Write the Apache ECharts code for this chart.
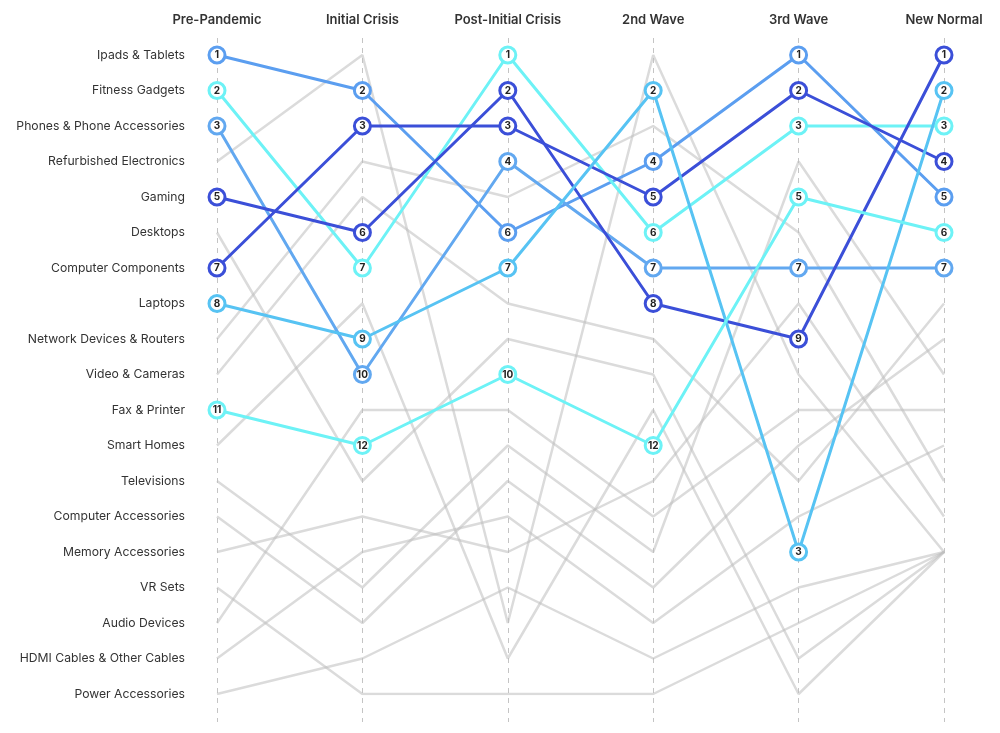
<!DOCTYPE html>
<html><head><meta charset="utf-8">
<script src="https://cdn.jsdelivr.net/npm/echarts@6/dist/echarts.min.js"></script>
<style>html,body{margin:0;padding:0;background:#fff}#c{width:1000px;height:733px}</style>
</head><body><div id="c"></div>
<script>
const periods = ['Pre-Pandemic', 'Initial Crisis', 'Post-Initial Crisis', '2nd Wave', '3rd Wave', 'New Normal'];
const categories = ['Ipads & Tablets', 'Fitness Gadgets', 'Phones & Phone Accessories', 'Refurbished Electronics',
  'Gaming', 'Desktops', 'Computer Components', 'Laptops', 'Network Devices & Routers', 'Video & Cameras',
  'Fax & Printer', 'Smart Homes', 'Televisions', 'Computer Accessories', 'Memory Accessories', 'VR Sets',
  'Audio Devices', 'HDMI Cables & Other Cables', 'Power Accessories'];

// highlighted series ranks per period
const ipads = [1, 2, 6, 4, 1, 5];
const fitness = [2, 7, 1, 6, 3, 3];
const phones = [3, 10, 4, 7, 7, 7];
const gaming = [5, 6, 2, 8, 9, 1];
const components = [7, 3, 3, 5, 2, 4];
const laptops = [8, 9, 7, 2, 15, 2];
const laptopsLabels = ['8', '9', '7', '2', '3', '2'];
const fax = [11, 12, 10, 12, 5, 6];

// background (grey) series ranks per period
const refurbished = [4, 1, 17, 1, 10, 15];
const desktops = [6, 13, 9, 10, 18, 15];
const network = [9, 4, 5, 3, 6, 13];
const video = [10, 5, 8, 9, 13, 8];
const smartHomes = [12, 8, 18, 11, 19, 15];
const televisions = [13, 16, 12, 15, 4, 10];
const compAccessories = [14, 17, 13, 16, 12, 9];
const memory = [15, 14, 15, 13, 8, 14];
const vr = [16, 19, 19, 19, 17, 15];
const audio = [17, 11, 11, 14, 11, 11];
const hdmi = [18, 15, 14, 17, 14, 12];
const power = [19, 18, 16, 18, 16, 15];

const DARK = '#3b4fd8', MID = '#5b9ef0', SKY = '#57c3f3', CYAN = '#6df2f6';
const FONT = 'Inter, "Noto Sans", sans-serif';

const highlighted = [
  {name: categories[0], vals: ipads, color: MID},
  {name: categories[1], vals: fitness, color: CYAN},
  {name: categories[2], vals: phones, color: '#62a8f0'},
  {name: categories[4], vals: gaming, color: DARK},
  {name: categories[6], vals: components, color: DARK},
  {name: categories[7], vals: laptops, color: SKY, labels: laptopsLabels},
  {name: categories[10], vals: fax, color: CYAN}
];
const grey = [
  {name: categories[3], vals: refurbished}, {name: categories[5], vals: desktops},
  {name: categories[8], vals: network}, {name: categories[9], vals: video},
  {name: categories[11], vals: smartHomes}, {name: categories[12], vals: televisions},
  {name: categories[13], vals: compAccessories}, {name: categories[14], vals: memory},
  {name: categories[15], vals: vr}, {name: categories[16], vals: audio},
  {name: categories[17], vals: hdmi}, {name: categories[18], vals: power}
];

const series = [];
grey.forEach(g => series.push({
  type: 'line', name: g.name, xAxisIndex: 0, yAxisIndex: 0,
  data: g.vals.map((v, i) => [i, v]),
  symbol: 'none', silent: true, z: 2,
  lineStyle: {color: 'rgba(190,190,190,0.55)', width: 2.5}
}));
highlighted.forEach(h => series.push({
  type: 'line', name: h.name, xAxisIndex: 0, yAxisIndex: 0,
  data: h.vals.map((v, i) => [i, v]),
  symbol: 'circle', symbolSize: 16, z: 5,
  lineStyle: {color: h.color, width: 3},
  itemStyle: {color: '#fff', borderColor: h.color, borderWidth: 3},
  label: {
    show: true, position: 'inside', color: '#222', fontSize: 10, fontWeight: 'bold', fontFamily: FONT,
    formatter: p => h.labels ? h.labels[p.dataIndex] : String(p.value[1])
  }
}));

const chart = echarts.init(document.getElementById('c'));
chart.setOption({
  animation: false,
  backgroundColor: '#fff',
  grid: [
    {left: 217, right: 56, top: 55, bottom: 39},
    {left: 217, right: 56, top: 38, bottom: 11}
  ],
  xAxis: [
    {type: 'category', gridIndex: 0, data: periods, position: 'top', boundaryGap: false,
     axisLine: {show: false}, axisTick: {show: false}, splitLine: {show: false},
     axisLabel: {margin: 28, color: '#333', fontSize: 13, fontWeight: 600, fontFamily: FONT}},
    {type: 'category', gridIndex: 1, data: periods, boundaryGap: false,
     axisLine: {show: false}, axisTick: {show: false}, axisLabel: {show: false},
     splitLine: {show: true, lineStyle: {color: '#c4c4c4', type: [5, 5], width: 1}}}
  ],
  yAxis: [
    {type: 'value', gridIndex: 0, min: 1, max: 19, interval: 1, inverse: true,
     axisLine: {show: false}, axisTick: {show: false}, splitLine: {show: false},
     axisLabel: {margin: 32, color: '#333', fontSize: 12.2, fontFamily: FONT,
       formatter: v => categories[v - 1] || ''}},
    {type: 'value', gridIndex: 1, min: 0, max: 1, show: false}
  ],
  series: series
});
</script></body></html>
